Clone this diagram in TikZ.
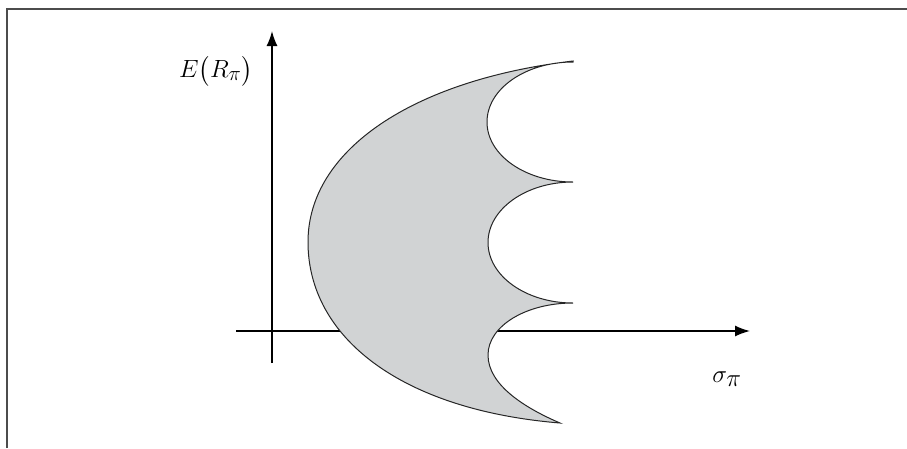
\documentclass[tikz,border=0pt]{standalone}
\usepackage{amsmath}
\usepackage{xcolor}
\usetikzlibrary{arrows.meta}

\definecolor{regiongray}{RGB}{209,211,212}

\begin{document}
\begin{tikzpicture}[
  x=1pt, y=-1pt,
  font=\fontsize{28}{32}\selectfont,
  axis/.style={line width=1.5pt, -{Latex[length=15pt,width=11pt]}},
  region/.style={draw=black!85, line width=1pt, fill=regiongray},
  lbl/.style={inner sep=0pt}]
\useasboundingbox (0,0) rectangle (907,448);

% Frame (top and left edges only).
\draw[line width=2.2pt, black!70] (7,448) -- (7,9) -- (907,9);

% Axes.
\coordinate (xs) at (236,331);
\coordinate (xe) at (750,331);
\coordinate (ys) at (272,363);
\coordinate (ye) at (272,31);
\draw[axis] (xs) -- (xe);
\draw[axis] (ys) -- (ye);

% Feasible region: outer frontier, then the scallops back up.
\draw[region] (573,61)
  .. controls (413,80) and (308,150) .. (308,242)
  .. controls (308,338) and (402,410) .. (560,423)
  .. controls (525,408) and (488,385) .. (488,355)
  .. controls (488,326) and (526,303) .. (573,303)
  arc[start angle=90, end angle=270, x radius=85, y radius=60.5]
  arc[start angle=90, end angle=270, x radius=86, y radius=60]
  -- cycle;

% Labels.
\node[lbl] (ylab) at (216,71) {$E\bigl(R_\pi\bigr)$};
\node[lbl, font=\fontsize{33}{36}\selectfont] (xlab) at (727,379) {$\sigma_\pi$};
\end{tikzpicture}
\end{document}
